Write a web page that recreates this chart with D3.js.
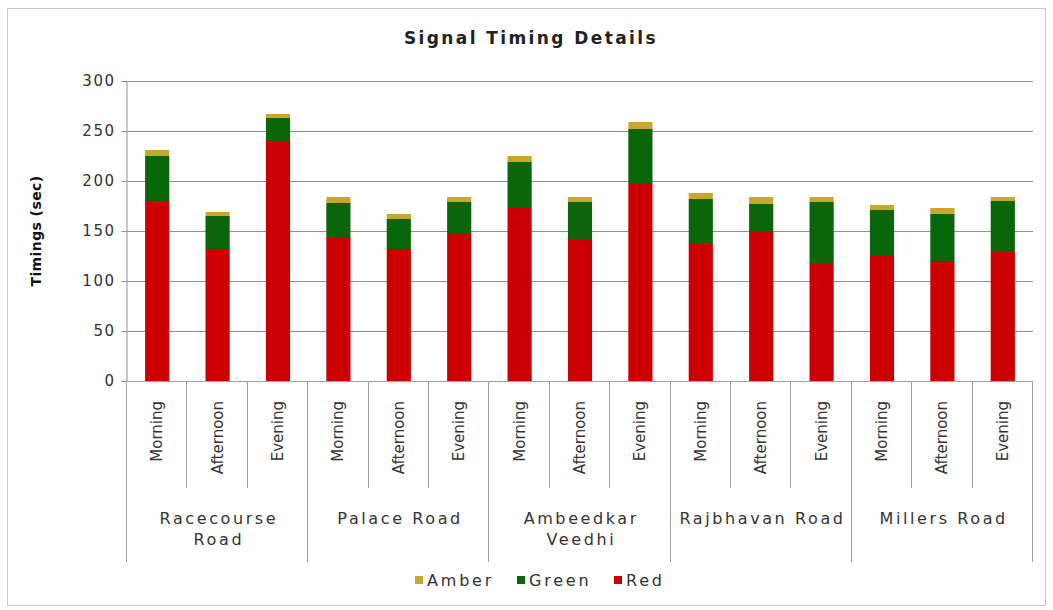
<!DOCTYPE html>
<html>
<head>
<meta charset="utf-8">
<script src="https://cdn.jsdelivr.net/npm/d3@7"></script>
<style>
  body { margin: 0; background: #fff; }
  svg { display: block; font-family: "DejaVu Sans", sans-serif; }
  .grid line { stroke: #8f8f8f; }
  .sep { stroke: #a0a0a0; }
</style>
</head>
<body>
<svg id="chart" width="1053" height="610"></svg>
<script>
const roads = ['Racecourse Road', 'Palace Road', 'Ambeedkar Veedhi', 'Rajbhavan Road', 'Millers Road'];
const roadLines = [['Racecourse', 'Road'], ['Palace Road'], ['Ambeedkar', 'Veedhi'], ['Rajbhavan Road'], ['Millers Road']];
const periods = ['Morning', 'Afternoon', 'Evening'];
const red = [180, 132, 240, 143, 132, 147, 173, 142, 197, 137, 149, 118, 125, 120, 129];
const green = [45, 33, 23, 35, 30, 32, 46, 37, 55, 45, 28, 61, 46, 47, 51];
const amber = [6, 4, 4, 6, 5, 5, 6, 5, 7, 6, 7, 5, 5, 6, 4];
const yTicks = [0, 50, 100, 150, 200, 250, 300];
const seriesKeys = ['red', 'green', 'amber'];
const legendKeys = ['amber', 'green', 'red'];
const seriesNames = { amber: 'Amber', green: 'Green', red: 'Red' };
const colors = { red: '#cc0000', green: '#0a660a', amber: '#c9a62c' };

const svg = d3.select('#chart');
const padding = { top: 81, left: 127, bottom: 229, right: 20 };
const width = 1053, height = 610;
const plotW = 1033 - padding.left;
const plotH = 381 - padding.top;

// one row per bar
const rows = [];
roads.forEach((road, gi) => {
  periods.forEach((p, pi) => {
    const i = gi * 3 + pi;
    rows.push({ id: i, road, period: p, red: red[i], green: green[i], amber: amber[i] });
  });
});

// outer frame
svg.append('rect')
  .attr('x', 7.5).attr('y', 8.5)
  .attr('width', 1038).attr('height', 597)
  .attr('fill', '#fff').attr('stroke', '#c8c8c8');

svg.append('text')
  .attr('x', 531).attr('y', 44)
  .attr('text-anchor', 'middle')
  .attr('font-size', 17).attr('font-weight', 'bold')
  .attr('letter-spacing', 2.4)
  .attr('fill', '#222')
  .text('Signal Timing Details');

const canvas = svg.append('g').attr('transform', `translate(${padding.left},${padding.top})`);

const xScale = d3.scaleBand()
  .domain(rows.map(d => d.id))
  .range([0, plotW])
  .paddingInner(0.6)
  .paddingOuter(0.3);
const step = plotW / rows.length;
const yScale = d3.scaleLinear().domain([0, 300]).range([plotH, 0]);

// gridlines
canvas.append('g').attr('class', 'grid')
  .selectAll('line').data(yTicks.slice(1)).join('line')
  .attr('x1', 0).attr('x2', plotW)
  .attr('y1', d => Math.round(yScale(d)) + 0.5)
  .attr('y2', d => Math.round(yScale(d)) + 0.5);

// y axis
const yAxis = d3.axisLeft(yScale).tickValues(yTicks).tickSize(5).tickPadding(6);
const yAxisG = canvas.append('g').attr('transform', 'translate(-0.5,0)').call(yAxis);
yAxisG.select('.domain').attr('stroke', '#8f8f8f');
yAxisG.selectAll('.tick line').attr('stroke', '#8f8f8f');
yAxisG.selectAll('.tick text')
  .attr('font-size', 15).attr('letter-spacing', 1.5)
  .attr('font-family', '"DejaVu Sans", sans-serif')
  .attr('fill', '#333');

svg.append('text')
  .attr('transform', 'translate(41,231) rotate(-90)')
  .attr('text-anchor', 'middle')
  .attr('font-size', 14).attr('font-weight', 'bold')
  .attr('letter-spacing', 0.4)
  .attr('fill', '#111')
  .text('Timings (sec)');

// stacked bars
const stacked = d3.stack().keys(seriesKeys)(rows);
canvas.append('g').selectAll('g').data(stacked).join('g')
  .attr('fill', s => colors[s.key])
  .selectAll('rect').data(s => s).join('rect')
  .attr('x', d => xScale(d.data.id))
  .attr('width', xScale.bandwidth())
  .attr('y', d => yScale(d[1]))
  .attr('height', d => yScale(d[0]) - yScale(d[1]));

// x axis baseline
canvas.append('line').attr('class', 'sep')
  .attr('x1', 0).attr('x2', plotW)
  .attr('y1', plotH + 0.5).attr('y2', plotH + 0.5);

// category separators
const boundaries = d3.range(rows.length + 1);
canvas.append('g').selectAll('line').data(boundaries).join('line')
  .attr('class', 'sep')
  .attr('x1', i => Math.round(i * step) - 0.5)
  .attr('x2', i => Math.round(i * step) - 0.5)
  .attr('y1', plotH)
  .attr('y2', i => plotH + (i % 3 === 0 ? 181 : 107));

// period labels
canvas.append('g').selectAll('text').data(rows).join('text')
  .attr('transform', d => `translate(${xScale(d.id) + xScale.bandwidth() / 2 + 5},${plotH + 20}) rotate(-90)`)
  .attr('text-anchor', 'end')
  .attr('font-size', 15)
  .attr('fill', '#333')
  .text(d => d.period);

// road labels
const groupW = step * 3;
const roadG = canvas.append('g').selectAll('text').data(roadLines).join('text')
  .attr('text-anchor', 'middle')
  .attr('font-size', 16)
  .attr('letter-spacing', 2.6)
  .attr('fill', '#333')
  .attr('transform', (d, i) => `translate(${groupW * i + groupW / 2 + 1.3},${plotH + 143})`);
roadG.selectAll('tspan').data(d => d).join('tspan')
  .attr('x', 0)
  .attr('dy', (d, i) => i === 0 ? 0 : 21)
  .text(d => d);

// legend
const legendX = [415, 517, 614];
const legend = svg.append('g').selectAll('g').data(legendKeys).join('g')
  .attr('transform', (d, i) => `translate(${legendX[i]},576)`);
legend.append('rect')
  .attr('width', 8).attr('height', 8)
  .attr('fill', d => colors[d]);
legend.append('text')
  .attr('x', 12).attr('y', 10)
  .attr('font-size', 16).attr('letter-spacing', 2.8)
  .attr('fill', '#333')
  .text(d => seriesNames[d]);
</script>
</body>
</html>
